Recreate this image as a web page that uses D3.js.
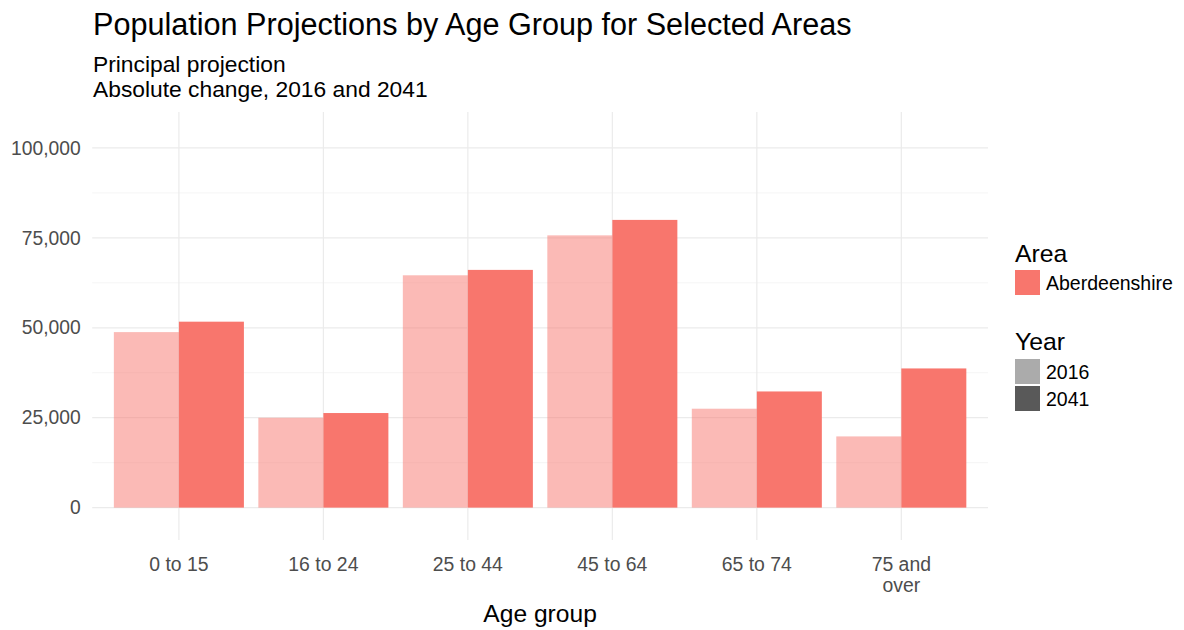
<!DOCTYPE html>
<html><head><meta charset="utf-8">
<script src="https://cdn.jsdelivr.net/npm/d3@7"></script>
<style>body{margin:0;background:#fff;} text{font-family:"Liberation Sans",Arial,sans-serif;}</style>
</head><body><svg id="c" width="1184" height="630"></svg>
<script>
const categories = ["0 to 15","16 to 24","25 to 44","45 to 64","65 to 74","75 and over"];
const years = ["2016","2041"];
const values2016 = [48800, 25000, 64600, 75700, 27500, 19800];
const values2041 = [51700, 26300, 66100, 80000, 32300, 38700];
const yTicks = [0, 25000, 50000, 75000, 100000];
const yMinor = [12500, 37500, 62500, 87500];
const areas = ["Aberdeenshire"];

const svg = d3.select("#c");
const panel = {l:92.2, r:988, t:112, b:540};
const x = d3.scaleBand().domain(categories).range([panel.l, panel.r]).paddingInner(0.1).paddingOuter(0.15);
const xs = d3.scaleBand().domain(years).range([0, x.bandwidth()]).padding(0);
const y = d3.scaleLinear().domain([-9000, 110000]).range([panel.b, panel.t]);
const red = "#F8766D";

const g = svg.append("g");
// grid
g.selectAll(".minor").data(yMinor).join("line")
  .attr("x1", panel.l).attr("x2", panel.r).attr("y1", d=>y(d)).attr("y2", d=>y(d))
  .attr("stroke", "#F2F2F2").attr("stroke-width", 0.8);
g.selectAll(".major").data(yTicks).join("line")
  .attr("x1", panel.l).attr("x2", panel.r).attr("y1", d=>y(d)).attr("y2", d=>y(d))
  .attr("stroke", "#EBEBEB").attr("stroke-width", 1.2);
g.selectAll(".vmajor").data(categories).join("line")
  .attr("x1", d=>x(d)+x.bandwidth()/2).attr("x2", d=>x(d)+x.bandwidth()/2)
  .attr("y1", panel.t).attr("y2", panel.b)
  .attr("stroke", "#EBEBEB").attr("stroke-width", 1.2);

// bars
const rows = categories.map((c,i)=>({c, v:[values2016[i], values2041[i]]}));
const grp = g.selectAll(".grp").data(rows).join("g").attr("transform", d=>`translate(${x(d.c)},0)`);
grp.selectAll("rect").data(d=>years.map((yr,j)=>({yr, v:d.v[j]}))).join("rect")
  .attr("x", d=>xs(d.yr)).attr("width", xs.bandwidth())
  .attr("y", d=>y(d.v)).attr("height", d=>y(0)-y(d.v))
  .attr("fill", red).attr("fill-opacity", d=>d.yr==="2016"?0.5:1);

// y axis labels
const yAxis = d3.axisLeft(y).tickValues(yTicks).tickFormat(d3.format(",")).tickSize(0).tickPadding(11.5);
const ya = svg.append("g").attr("transform", `translate(${panel.l},0)`).call(yAxis);
ya.select(".domain").remove();
ya.selectAll("text").attr("font-size", 19.3).attr("fill", "#4D4D4D").attr("font-family", "Liberation Sans, Arial, sans-serif");

// x axis labels
const xAxis = d3.axisBottom(x).tickSize(0).tickFormat("");
const xa = svg.append("g").attr("transform", `translate(0,${panel.b})`).call(xAxis);
xa.select(".domain").remove();
xa.selectAll(".tick").each(function(d){
  const t = d3.select(this).append("text").attr("fill","#4D4D4D").attr("font-size",19.4)
    .attr("text-anchor","middle").attr("y", 31);
  const lines = d === "75 and over" ? ["75 and","over"] : [d];
  lines.forEach((ln,k)=>t.append("tspan").attr("x",0).attr("dy", k===0?0:21).text(ln));
});

// axis title
svg.append("text").attr("x", (panel.l+panel.r)/2).attr("y", 622).attr("text-anchor","middle")
  .attr("font-size", 24.6).attr("fill","#000").text("Age group");

// titles
svg.append("text").attr("x", 93).attr("y", 35).attr("font-size", 30.6).attr("fill","#000")
  .text("Population Projections by Age Group for Selected Areas");
svg.append("text").attr("x", 93).attr("y", 72).attr("font-size", 22.8).attr("fill","#000").text("Principal projection");
svg.append("text").attr("x", 93).attr("y", 97).attr("font-size", 22.8).attr("fill","#000").text("Absolute change, 2016 and 2041");

// legend
const lg = svg.append("g");
lg.append("text").attr("x", 1015).attr("y", 262).attr("font-size", 24.8).text("Area");
lg.selectAll(".ak").data(areas).join("rect").attr("x",1015).attr("y",(d,i)=>270+i*25).attr("width",25).attr("height",25).attr("fill",red);
lg.selectAll(".al").data(areas).join("text").attr("x",1046).attr("y",(d,i)=>290+i*25).attr("font-size",19.5).text(d=>d);
lg.append("text").attr("x", 1015).attr("y", 350).attr("font-size", 24.8).text("Year");
const yearCols = ["#ABABAB","#595959"];
lg.selectAll(".yk").data(years).join("rect").attr("x",1015).attr("y",(d,i)=>359+i*27).attr("width",25).attr("height",25).attr("fill",(d,i)=>yearCols[i]);
lg.selectAll(".yl").data(years).join("text").attr("x",1046).attr("y",(d,i)=>379+i*27).attr("font-size",19.5).text(d=>d);
</script></body></html>
